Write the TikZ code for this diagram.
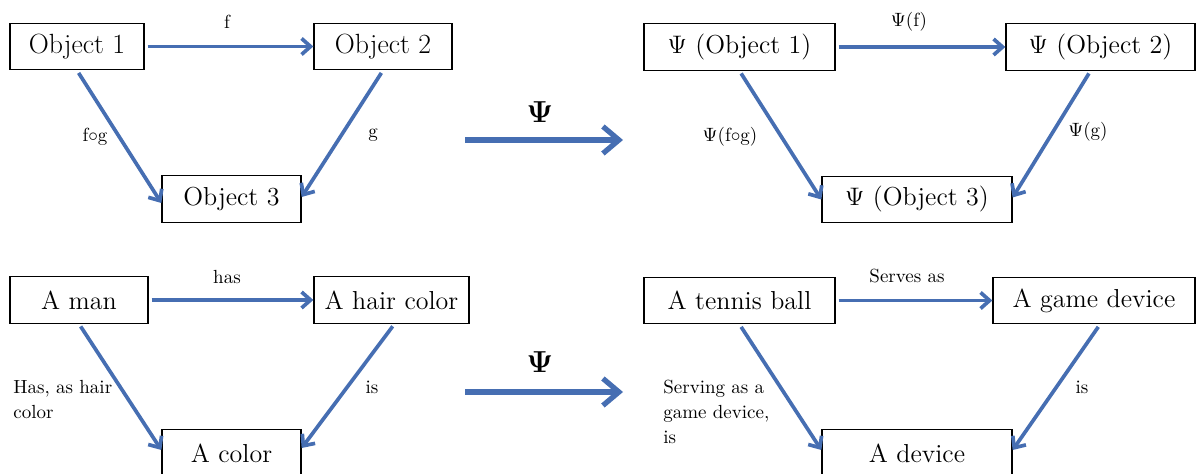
\documentclass[tikz,border=0pt]{standalone}
\usetikzlibrary{arrows.meta}
\definecolor{arrowblue}{RGB}{70,110,178}

\begin{document}
\begin{tikzpicture}[box/.style={draw, fill=white, line width=0.75pt, minimum height=0.93cm, inner sep=0pt, font=\fontsize{14.8}{17}\selectfont},
  lbl/.style={inner sep=0pt, font=\fontsize{10.8}{14.2}\selectfont},
  map/.style={draw=arrowblue, line width=2.1pt, -{Straight Barb[length=1.8mm, width=3.2mm, line width=2.1pt]}, shorten <=0.06cm},
  bigmap/.style={draw=arrowblue, line width=3pt, -{Straight Barb[length=3.2mm, width=5.4mm, line width=3pt]}}]

\useasboundingbox (0,0) rectangle (23.92,-9.48);
\clip (0,0) rectangle (23.92,-9.48);

% abstract diagram
\node[box, minimum width=2.68cm, font=\fontsize{15.8}{18}\selectfont] (obj1) at (1.54,-0.93) {Object 1};
\node[box, minimum width=2.76cm, font=\fontsize{15.8}{18}\selectfont] (obj2) at (7.66,-0.93) {Object 2};
\node[box, minimum width=2.78cm] (obj3) at (4.63,-3.98) {Object 3};

\node[box, minimum width=3.82cm] (pobj1) at (14.79,-0.94) {$\Psi$ (Object 1)};
\node[box, minimum width=3.78cm] (pobj2) at (22.01,-0.94) {$\Psi$ (Object 2)};
\node[box, minimum width=3.80cm] (pobj3) at (18.34,-3.99) {$\Psi$ (Object 3)};

% example diagram
\node[box, minimum width=2.76cm] (man) at (1.58,-6.00) {A man};
\node[box, minimum width=3.10cm] (hair) at (7.83,-6.00) {A hair color};
\node[box, minimum width=2.78cm] (color) at (4.63,-9.06) {A color};

\node[box, minimum width=3.82cm] (ball) at (14.79,-6.01) {A tennis ball};
\node[box, minimum width=4.04cm] (game) at (21.88,-6.01) {A game device};
\node[box, minimum width=3.80cm] (device) at (18.34,-9.06) {A device};

\begin{scope}[map]
\draw (obj1) -- (obj2);
\draw (obj1.south) -- ([yshift=-0.08cm]obj3.west);
\draw (obj2.south) -- ([yshift=0.04cm]obj3.east);
\draw (pobj1) -- (pobj2);
\draw (pobj1.south) -- (pobj3.west);
\draw ([xshift=-0.2cm]pobj2.south) -- ([yshift=0.04cm]pobj3.east);
\draw (man) -- (hair);
\draw (man.south) -- ([yshift=0.06cm]color.west);
\draw ([xshift=0.06cm]hair.south) -- ([yshift=0.1cm]color.east);
\draw (ball) -- (game);
\draw (ball.south) -- ([yshift=0.06cm]device.west);
\draw ([xshift=0.12cm]game.south) -- ([yshift=0.06cm]device.east);
\end{scope}

\node[lbl] (lf) at (4.54,-0.44) {f};
\node[lbl] (lfg) at (1.90,-2.74) {f$\circ$g};
\node[lbl] (lg) at (7.46,-2.70) {g};
\node[lbl] (lpf) at (18.18,-0.44) {$\Psi$(f)};
\node[lbl] (lpfg) at (14.60,-2.74) {$\Psi$(f$\circ$g)};
\node[lbl] (lpg) at (21.76,-2.64) {$\Psi$(g)};

\node[lbl] (lhas) at (4.54,-5.54) {has};
\node[lbl, anchor=west, align=left] (lhasas) at (0.26,-7.99) {Has, as hair\\color};
\node[lbl] (lis) at (7.44,-7.74) {is};
\node[lbl] (lserves) at (18.14,-5.52) {Serves as};
\node[lbl, anchor=west, align=left] (lserving) at (13.26,-8.24) {Serving as a\\game device,\\is};
\node[lbl] (lis2) at (21.64,-7.74) {is};

% the functor
\coordinate (m1a) at (9.30,-2.80);
\coordinate (m1b) at (12.46,-2.80);
\coordinate (m2a) at (9.30,-7.84);
\coordinate (m2b) at (12.46,-7.84);
\draw[bigmap] (m1a) -- (m1b);
\draw[bigmap] (m2a) -- (m2b);
\node[font=\fontsize{17}{20}\selectfont] (psi1) at (10.80,-2.24) {$\mathbf{\Psi}$};
\node[font=\fontsize{17}{20}\selectfont] (psi2) at (10.80,-7.24) {$\mathbf{\Psi}$};
\end{tikzpicture}
\end{document}
